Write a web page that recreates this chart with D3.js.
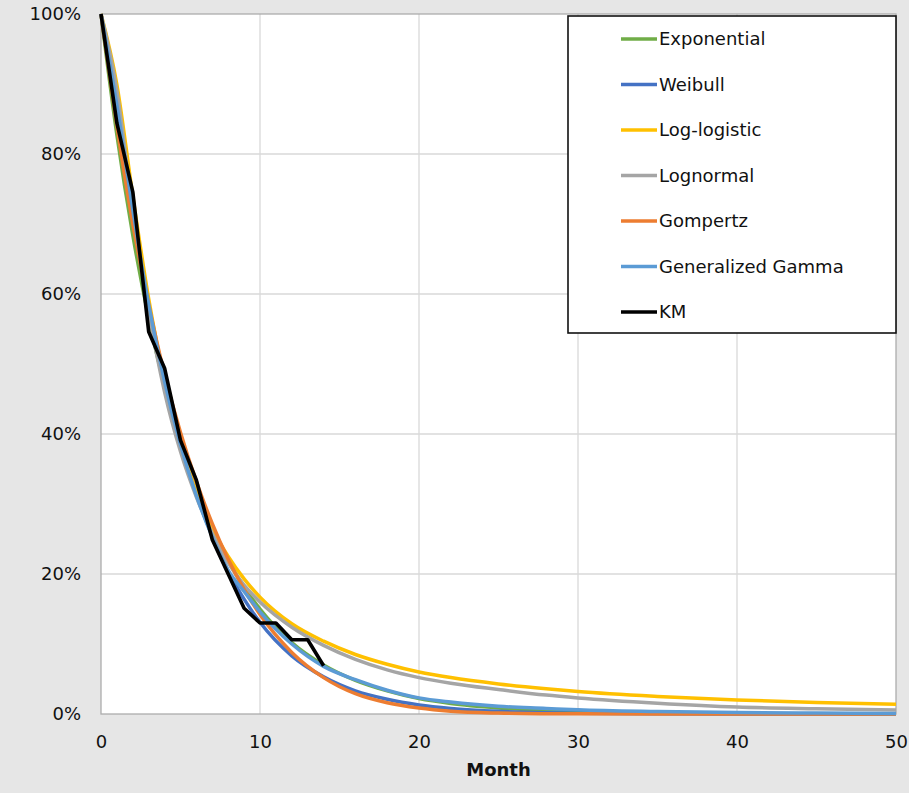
<!DOCTYPE html>
<html>
  <head>
    <meta charset="utf-8" />
    <script src="https://d3js.org/d3.v7.min.js"></script>
    <style>
      body {
        margin: 0;
        background: #fff;
      }
      text {
        font-family: "DejaVu Sans", Verdana, sans-serif;
        fill: #111;
      }
    </style>
  </head>
  <body>
    <svg id="chart" width="909" height="793"></svg>
    <script>
      var months = [0, 1, 2, 3, 4, 5, 6, 7, 8, 9, 10, 12, 14, 16, 18, 20, 22, 25, 28, 30, 35, 40, 45, 50];

      var exponential = [100, 82.7, 68.4, 56.6, 46.8, 38.7, 32.0, 26.4, 21.9, 18.1, 15.0, 10.2, 7.0, 4.8, 3.3, 2.2, 1.5, 0.87, 0.49, 0.33, 0.13, 0.05, 0.02, 0.01];
      var weibull = [100, 85.1, 70.8, 58.3, 47.6, 38.8, 31.4, 25.4, 20.4, 16.4, 13.1, 8.3, 5.3, 3.3, 2.1, 1.3, 0.8, 0.38, 0.18, 0.11, 0.03, 0.01, 0, 0];
      var loglogistic = [100, 89.9, 74.0, 59.3, 47.6, 38.6, 31.8, 26.5, 22.5, 19.3, 16.7, 12.9, 10.4, 8.5, 7.1, 6.0, 5.2, 4.3, 3.6, 3.2, 2.5, 2.0, 1.66, 1.4];
      var lognormal = [100, 89, 72, 57.5, 46, 37.5, 31, 25.8, 21.6, 18.4, 16.0, 12.4, 9.8, 7.8, 6.3, 5.2, 4.4, 3.5, 2.7, 2.3, 1.55, 1.0, 0.75, 0.57];
      var gompertz = [100, 84, 70, 58.5, 48.5, 40.2, 33.2, 27.2, 22.1, 17.8, 14.2, 8.8, 5.2, 2.9, 1.6, 0.85, 0.4, 0.13, 0.04, 0.02, 0, 0, 0, 0];
      var gengamma = [100, 87, 72, 58.5, 47.5, 38.5, 31.2, 25.3, 20.5, 17.5, 14.6, 10.0, 6.8, 4.9, 3.4, 2.3, 1.7, 1.1, 0.8, 0.6, 0.35, 0.2, 0.13, 0.08];

      var kmMonths = [0, 1, 2, 3, 4, 5, 6, 7, 8, 9, 10, 11, 12, 13, 14];
      var km = [100, 84.4, 74.6, 54.6, 49.4, 39.1, 33.4, 24.9, 20, 15.1, 13, 13, 10.6, 10.6, 6.9];

      var xTicks = [0, 10, 20, 30, 40, 50];
      var yTicks = [0, 20, 40, 60, 80, 100];

      var series = [
        { name: "Exponential", color: "#70ad47", x: months, y: exponential },
        { name: "Weibull", color: "#4472c4", x: months, y: weibull },
        { name: "Log-logistic", color: "#ffc000", x: months, y: loglogistic },
        { name: "Lognormal", color: "#a5a5a5", x: months, y: lognormal },
        { name: "Gompertz", color: "#ed7d31", x: months, y: gompertz },
        { name: "Generalized Gamma", color: "#5b9bd5", x: months, y: gengamma },
        { name: "KM", color: "#000000", x: kmMonths, y: km },
      ];

      var svg = d3.select("#chart");

      svg.append("rect")
        .attr("width", 909)
        .attr("height", 793)
        .attr("fill", "#e6e6e6");

      var plot = { left: 101, right: 896, top: 14, bottom: 714 };

      var x = d3.scaleLinear().domain([0, 50]).range([plot.left, plot.right]);
      var y = d3.scaleLinear().domain([0, 100]).range([plot.bottom, plot.top]);

      svg.append("rect")
        .attr("x", plot.left)
        .attr("y", plot.top)
        .attr("width", plot.right - plot.left)
        .attr("height", plot.bottom - plot.top)
        .attr("fill", "#fff");

      // gridlines
      svg.append("g")
        .selectAll("line")
        .data(xTicks.slice(1, -1))
        .join("line")
        .attr("x1", (d) => x(d))
        .attr("x2", (d) => x(d))
        .attr("y1", plot.top)
        .attr("y2", plot.bottom)
        .attr("stroke", "#d9d9d9")
        .attr("stroke-width", 1.3);

      svg.append("g")
        .selectAll("line")
        .data(yTicks.slice(1, -1))
        .join("line")
        .attr("x1", plot.left)
        .attr("x2", plot.right)
        .attr("y1", (d) => y(d))
        .attr("y2", (d) => y(d))
        .attr("stroke", "#d9d9d9")
        .attr("stroke-width", 1.3);

      svg.append("rect")
        .attr("x", plot.left)
        .attr("y", plot.top)
        .attr("width", plot.right - plot.left)
        .attr("height", plot.bottom - plot.top)
        .attr("fill", "none")
        .attr("stroke", "#adadad")
        .attr("stroke-width", 1.3);

      // axes
      var yAxis = svg.append("g")
        .attr("transform", "translate(" + plot.left + ",0)")
        .call(d3.axisLeft(y).tickValues(yTicks).tickSize(0).tickPadding(20).tickFormat((d) => d + "%"));
      yAxis.select(".domain").remove();
      yAxis.selectAll("text").style("font-size", "18px").attr("fill", "#111");

      var xAxis = svg.append("g")
        .attr("transform", "translate(0," + plot.bottom + ")")
        .call(d3.axisBottom(x).tickValues(xTicks).tickSize(0).tickPadding(21));
      xAxis.select(".domain").remove();
      xAxis.selectAll("text").style("font-size", "18px").attr("fill", "#111");

      svg.append("text")
        .attr("x", (plot.left + plot.right) / 2)
        .attr("y", 776)
        .attr("text-anchor", "middle")
        .style("font-size", "18px")
        .style("font-weight", "bold")
        .text("Month");

      // curves
      var line = d3.line()
        .x((d) => x(d[0]))
        .y((d) => y(d[1]));

      svg.append("g")
        .selectAll("path")
        .data(series)
        .join("path")
        .attr("d", (s) => {
          line.curve(s.name == "KM" ? d3.curveLinear : d3.curveMonotoneX);
          return line(s.x.map((m, i) => [m, s.y[i]]));
        })
        .attr("fill", "none")
        .attr("stroke", (s) => s.color)
        .attr("stroke-width", (s) => (s.name == "KM" ? 3.6 : 3.5))
        .attr("stroke-linejoin", "round");

      // legend
      var legend = svg.append("g");
      legend.append("rect")
        .attr("x", 568)
        .attr("y", 16)
        .attr("width", 328)
        .attr("height", 317)
        .attr("fill", "#fff")
        .attr("stroke", "#111")
        .attr("stroke-width", 1.6);

      var item = legend.selectAll("g.item")
        .data(series)
        .join("g")
        .attr("class", "item")
        .attr("transform", (d, i) => "translate(0," + (39 + i * 45.5) + ")");

      item.append("line")
        .attr("x1", 621)
        .attr("x2", 657)
        .attr("stroke", (d) => d.color)
        .attr("stroke-width", 3.5);

      item.append("text")
        .attr("x", 659)
        .attr("dy", "0.35em")
        .style("font-size", "18px")
        .text((d) => d.name);
    </script>
  </body>
</html>
